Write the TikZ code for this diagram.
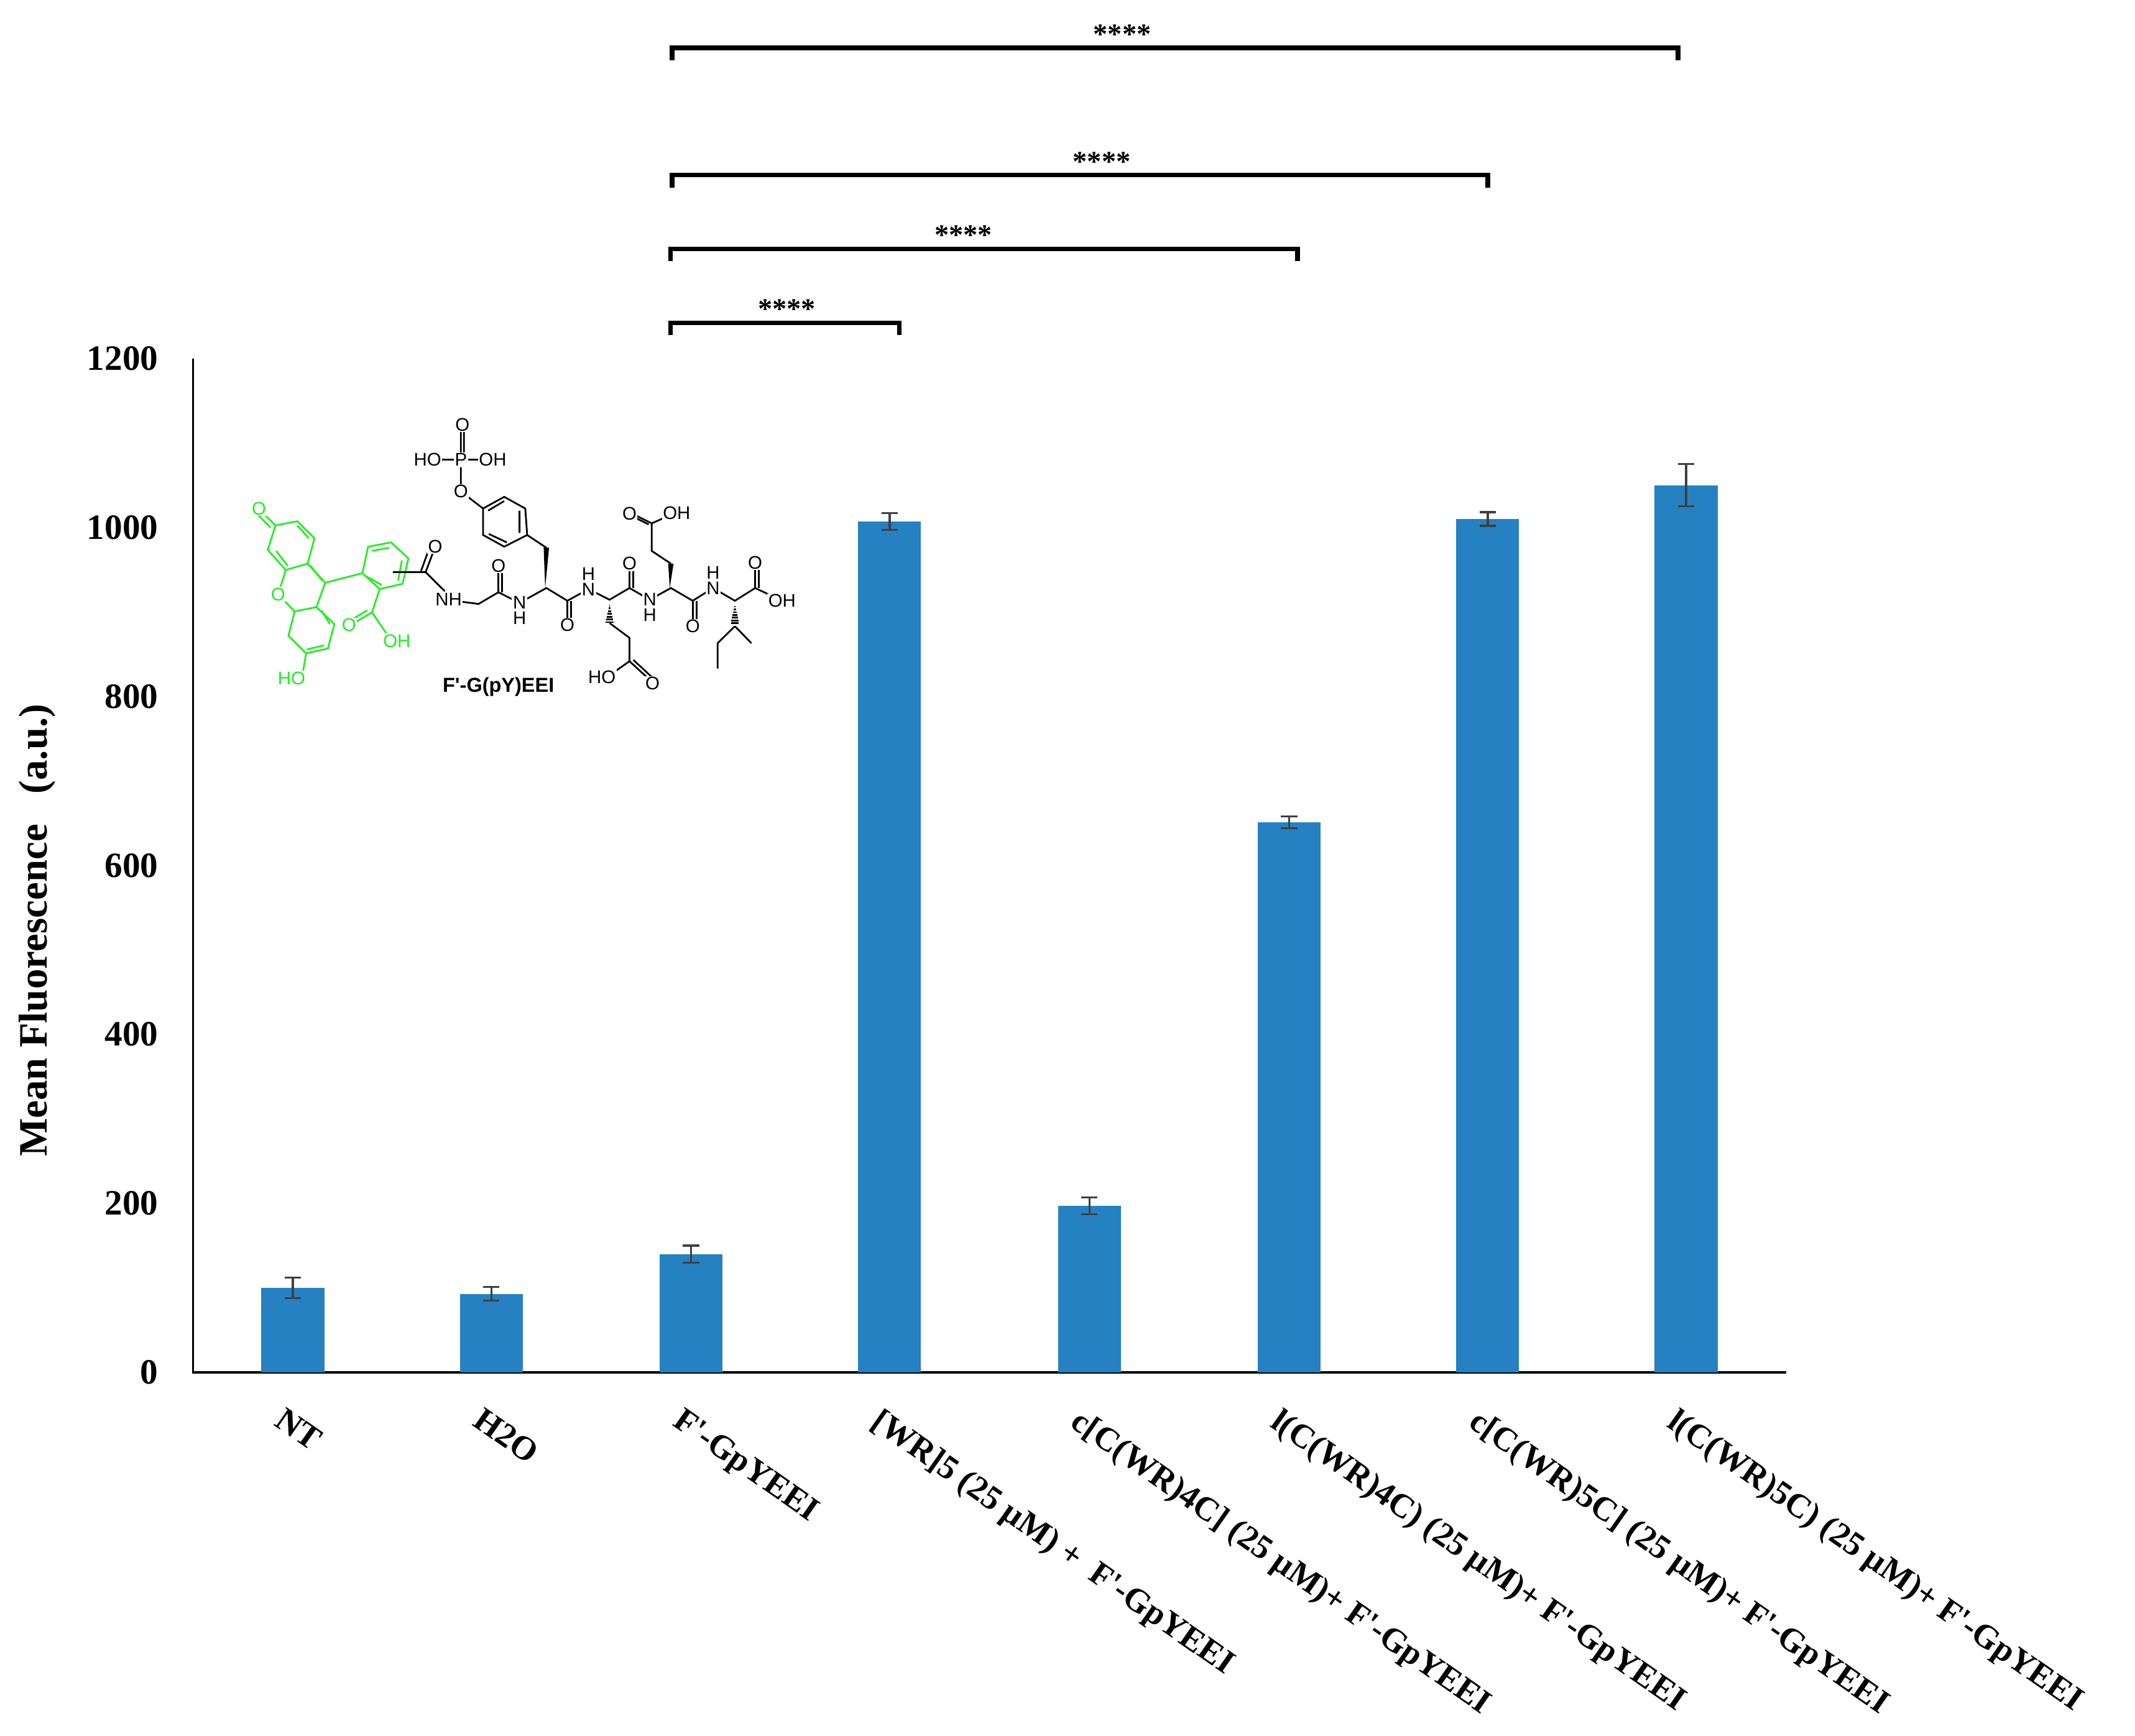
\documentclass[tikz,border=0pt]{standalone}
\usepackage{fontspec}
\setmainfont{Liberation Serif}[Ligatures=TeXOff]
\newfontfamily\molfont{Liberation Sans}[Ligatures=TeXOff]
\definecolor{barblue}{HTML}{2581C1}
\definecolor{errgray}{HTML}{404040}
\definecolor{fgreen}{HTML}{22EE22}
\newcommand{\aps}{'}
\begin{document}
\begin{tikzpicture}[x=0.05cm,y=-0.05cm,
  lab/.style={font=\fontsize{37}{40}\selectfont\bfseries},
  bar/.style={fill=barblue,draw=none},
  err/.style={draw=errgray,line width=2.2pt},
  brk/.style={draw=black,line width=4.8pt},
  bond/.style={line width=1.8pt},
  atom/.style={font=\molfont\fontsize{19}{20}\selectfont,inner sep=1pt,fill=white},
  xl/.style={font=\fontsize{35}{40}\selectfont\bfseries,rotate=-35,anchor=north west,inner sep=0pt}]
\useasboundingbox (0,0) rectangle (1560,1268.4);
% axes
\draw[line width=2.4pt] (141,262) -- (141,1003) -- (1305,1003);
\foreach \v/\lbl in {0/0,200/200,400/400,600/600,800/800,1000/1000,1200/1200}
  \node[lab,anchor=east] at (118,{1003-\v*0.6175}) {\lbl};
\node[rotate=90,font=\fontsize{42}{44}\selectfont\bfseries] at (27,680) {Mean Fluorescence~~~(a.u.)};
% bars
\foreach \x/\v/\e in {214/100/12,359/93/8,505/140/10,650/1007/10,796/197/10,942/651/7,1087/1010/8,1232/1050/25}{
  \fill[bar] ({\x-23},1003) rectangle ({\x+23},{1003-\v*0.6175});
  \draw[err] (\x,{1003-(\v-\e)*0.6175}) -- (\x,{1003-(\v+\e)*0.6175});
  \draw[err] ({\x-6},{1003-(\v-\e)*0.6175}) -- ({\x+6},{1003-(\v-\e)*0.6175});
  \draw[err] ({\x-6},{1003-(\v+\e)*0.6175}) -- ({\x+6},{1003-(\v+\e)*0.6175});
}
% x labels
\node[xl] at (209,1028) {NT};
\node[xl] at (354,1028) {H2O};
\node[xl] at (500,1028) {F\aps-GpYEEI};
\node[xl] at (645,1028) {[WR]5 (25 µM) +~ F\aps-GpYEEI};
\node[xl] at (791,1028) {c[C(WR)4C] (25 µM)+ F\aps-GpYEEI};
\node[xl] at (937,1028) {l(C(WR)4C) (25 µM)+ F\aps-GpYEEI};
\node[xl] at (1082,1028) {c[C(WR)5C] (25 µM)+ F\aps-GpYEEI};
\node[xl] at (1227,1028) {l(C(WR)5C) (25 µM)+ F\aps-GpYEEI};
% significance brackets
\foreach \a/\b/\y/\s in {491/1226/35/820,491/1087/128/805,490/948/182/704,490/657/236/575}{
  \draw[brk] (\a,{\y+9}) -- (\a,\y) -- (\b,\y) -- (\b,{\y+9});
  \node[font=\fontsize{30}{30}\selectfont\bfseries] at (\s,{\y-10}) {****};
}
% molecule
\begin{scope}[shift={({185-50*0.28},{305-100*0.155})},xscale=0.28,yscale=0.155]
 \begin{scope}[fgreen,bond]
  \draw (108,610)--(165,590)--(210,670)--(192,790)--(135,820)--(88,725)--cycle;
  \draw (192,790)--(238,880)--(215,995)--(158,1015)--(115,935)--(135,820);
  \draw (215,995)--(262,1075)--(245,1190)--(188,1213)--(142,1130)--(158,1015);
  \draw (165,610)--(195,670) (110,730)--(140,800) (200,800)--(230,870) (228,1010)--(250,1075) (190,1195)--(235,1175);
  \draw (108,610)--(72,545) (95,620)--(60,555);
  \draw (188,1213)--(180,1300);
  \draw (238,880)--(335,835);
  \draw (335,835)--(350,710)--(410,690)--(455,765)--(440,885)--(380,910)--cycle;
  \draw (360,730)--(405,715) (345,850)--(385,890) (438,775)--(428,870);
  \draw (380,910)--(360,1020)--(398,1120);
  \draw (360,1020)--(318,1065) (348,1010)--(306,1055);
  \node[atom,text=fgreen] at (65,530) {O};
  \node[atom,text=fgreen] at (115,935) {O};
  \node[atom,text=fgreen] at (300,1080) {O};
  \node[atom,text=fgreen] at (425,1155) {OH};
  \node[atom,text=fgreen] at (150,1330) {HO};
 \end{scope}
 \begin{scope}[black,bond]
  \draw (415,830)--(500,830)--(525,710) (488,825)--(512,705);
  \draw (500,830)--(550,920);
  \draw (595,970)--(638,980)--(690,925)--(745,975)--(815,905)--(870,965)--(925,910)--(980,960)--(1032,905)--(1085,960)--(1140,905)--(1197,965)--(1250,905)--(1307,965)--(1360,905)--(1430,965);
  \draw (690,925)--(690,800) (700,925)--(700,800);
  \draw (870,965)--(870,1080) (880,965)--(880,1080);
  \draw (1032,905)--(1032,790) (1042,905)--(1042,790);
  \draw (1197,965)--(1197,1085) (1207,965)--(1207,1085);
  \draw (1360,905)--(1360,785) (1370,905)--(1370,785);
  \fill (812,905)--(808,715)--(822,715)--cycle;
  \fill (1137,905)--(1133,790)--(1147,790)--cycle;
  \draw (815,715)--(765,655);
  \draw (765,655)--(705,710)--(650,655)--(650,530)--(705,475)--(760,530)--cycle;
  \draw (712,690)--(665,650) (663,540)--(705,495) (745,540)--(745,645);
  \draw (650,530)--(610,475) (592,420)--(592,335) (592,270)--(592,160) (600,270)--(600,160);
  \draw (540,300)--(640,300);
  \foreach \t in {0,...,7} \draw ({980-\t*1.5},{975+\t*13}) -- ({980+\t*1.5},{975+\t*13});
  \draw (980,1070)--(1032,1140)--(1032,1250)--(985,1310);
  \draw (1032,1250)--(1080,1330) (1042,1244)--(1090,1324);
  \draw (1140,790)--(1090,730)--(1090,600)--(1045,560) (1090,600)--(1140,560) (1082,605)--(1037,565);
  \foreach \t in {0,...,7} \draw ({1307-\t*1.5},{980+\t*13}) -- ({1307+\t*1.5},{980+\t*13});
  \draw (1307,1085)--(1262,1165)--(1262,1285) (1307,1085)--(1350,1165);
  \node[atom] at (560,960) {NH};
  \node[atom,align=center] at (745,1010) {N\\[-4pt]H};
  \node[atom,align=center] at (925,875) {H\\[-4pt]N};
  \node[atom,align=center] at (1085,995) {N\\[-4pt]H};
  \node[atom,align=center] at (1250,870) {H\\[-4pt]N};
  \node[atom] at (525,710) {O};
  \node[atom] at (690,800) {O};
  \node[atom] at (870,1080) {O};
  \node[atom] at (1032,790) {O};
  \node[atom] at (1197,1085) {O};
  \node[atom] at (1360,785) {O};
  \node[atom] at (1430,965) {OH};
  \node[atom] at (592,450) {O};
  \node[atom] at (592,300) {P};
  \node[atom] at (505,300) {HO};
  \node[atom] at (675,300) {OH};
  \node[atom] at (596,135) {O};
  \node[atom] at (960,1325) {HO};
  \node[atom] at (1092,1355) {O};
  \node[atom] at (1032,555) {O};
  \node[atom] at (1155,550) {OH};
  \node[atom,font=\molfont\bfseries\fontsize{21}{22}\selectfont] at (690,1370) {F\aps-G(pY)EEI};
 \end{scope}
\end{scope}
\end{tikzpicture}
\end{document}
